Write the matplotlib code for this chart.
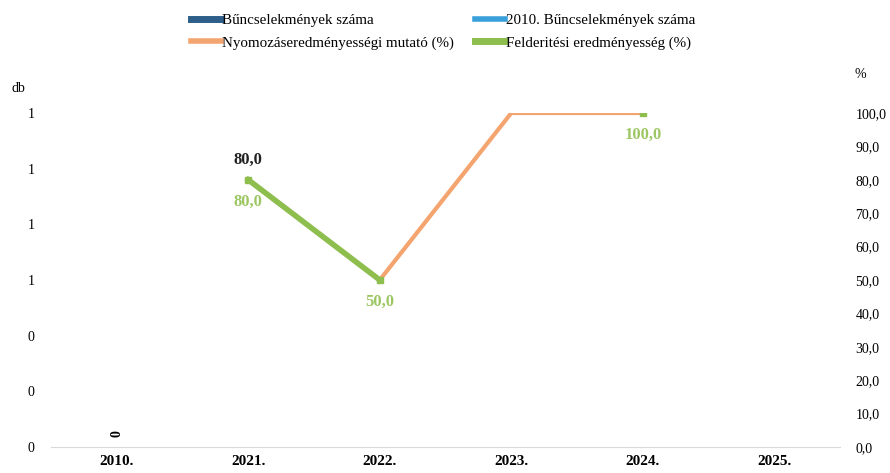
import numpy as np
import matplotlib.pyplot as plt
from matplotlib.lines import Line2D

plt.rcParams['font.family'] = ['Liberation Serif', 'DejaVu Serif']

years = ['2010.', '2021.', '2022.', '2023.', '2024.', '2025.']
buncs = [0, np.nan, np.nan, np.nan, np.nan, np.nan]
buncs_2010 = [np.nan] * 6
nyomozas = [np.nan, 80.0, 50.0, 100.0, 100.0, np.nan]
felderites = [np.nan, 80.0, 50.0, np.nan, 100.0, np.nan]

x = np.arange(len(years))

fig = plt.figure(figsize=(8.9, 4.73), dpi=100)
ax = fig.add_axes([51 / 890, 1 - 447 / 473, (840 - 51) / 890, (447 - 113) / 473])
ax2 = ax.twinx()

# left axis: counts
ax.bar(x, np.nan_to_num(buncs), width=0.5, color='#2E5E8A')
ax.plot(x, buncs_2010, color='#3AA0DC', lw=4)
for i, v in enumerate(buncs):
    if not np.isnan(v):
        ax.text(x[i], 0.05, '%d' % v, ha='center', va='center', fontsize=10,
                fontweight='bold', rotation=90)
ax.set_ylim(0, 1.2)
ax.set_yticks(np.arange(0, 1.21, 0.2))
ax.set_yticklabels(['%.0f' % v for v in np.arange(0, 1.21, 0.2)])
ax.set_xlim(-0.5, len(years) - 0.5)
ax.set_xticks(x)
ax.set_xticklabels(years, fontweight='bold', fontsize=11)

# right axis: percentages
ax2.plot(x, nyomozas, color='#F4A46E', lw=3, zorder=2)
ax2.plot(x, felderites, color='#8DBE4E', lw=4, marker='s', ms=5, zorder=3)
ax2.set_ylim(0, 100)
ax2.set_yticks(np.arange(0, 101, 10))
ax2.set_yticklabels([('%.1f' % v).replace('.', ',') for v in np.arange(0, 101, 10)])

ax2.text(x[1], nyomozas[1] + 6, '80,0', ha='center', va='center',
         fontsize=12, fontweight='bold', color='#222222')
for i, v in enumerate(felderites):
    if not np.isnan(v):
        ax2.text(x[i], v - 6.5, ('%.1f' % v).replace('.', ','), ha='center', va='center',
                 fontsize=12, fontweight='bold', color='#9CC763')

for a in (ax, ax2):
    for s in a.spines.values():
        s.set_visible(False)
    a.tick_params(length=0, labelsize=10)
ax.tick_params(axis='x', labelsize=11, pad=6)
ax.tick_params(axis='y', pad=12)
ax2.tick_params(axis='y', pad=11)
ax.spines['bottom'].set_visible(True)
ax.spines['bottom'].set_color('#d9d9d9')

fig.text(12 / 890, 1 - 88 / 473, 'db', fontsize=10, va='center')
fig.text(860 / 890, 1 - 75 / 473, '%', fontsize=10, va='center', ha='center')

# legend
handles = [Line2D([], [], color='#2E5E8A', lw=5),
           Line2D([], [], color='#F4A46E', lw=4),
           Line2D([], [], color='#3AA0DC', lw=4),
           Line2D([], [], color='#8DBE4E', lw=5)]
labels = ['Bűncselekmények száma', 'Nyomozáseredményességi mutató (%)',
          '2010. Bűncselekmények száma', 'Felderitési eredményesség (%)']
fig.legend(handles, labels, ncol=2, loc='upper left', bbox_to_anchor=(180 / 890, 1 - 3 / 473),
           frameon=False, fontsize=10.8, handlelength=2.0, handletextpad=0.1,
           columnspacing=1.4, labelspacing=0.6, borderpad=0.2)

fig.savefig('out.png', dpi=100)
